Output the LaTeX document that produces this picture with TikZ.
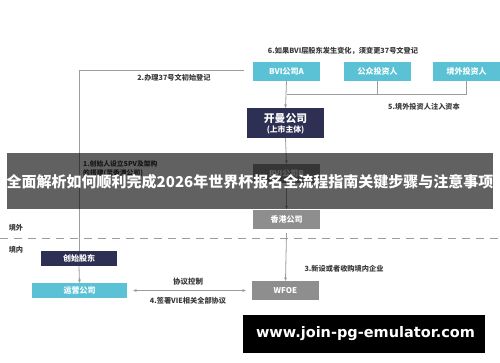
\documentclass[tikz,border=0pt]{standalone}
\usepackage{fontspec}
\setmainfont{Noto Sans CJK SC}
\newfontfamily\wmfont{DejaVu Sans}
\usetikzlibrary{arrows.meta}
\definecolor{cy}{HTML}{5BC2D6}
\definecolor{nv}{HTML}{2D3052}
\definecolor{gy}{HTML}{8E8E8E}
\definecolor{ln}{HTML}{9C9C9C}
\definecolor{tx}{HTML}{3A3A3A}
\tikzset{
  cbox/.style={fill=cy,text=white,font=\bfseries\fontsize{8}{9}\selectfont,inner sep=0pt,minimum width=67pt,minimum height=19pt},
  nbox/.style={fill=nv,text=white,font=\bfseries\fontsize{8}{9}\selectfont,inner sep=0pt},
  gbox/.style={fill=gy,text=white,font=\bfseries\fontsize{8}{9}\selectfont,inner sep=0pt,minimum width=67pt,minimum height=19pt},
  lab/.style={text=tx,font=\bfseries\fontsize{7.2}{8.5}\selectfont,inner sep=0pt},
  con/.style={draw=ln,line width=0.8pt},
  arr/.style={con,-{Stealth[length=3.5pt,width=3pt]}},
}
\begin{document}
\begin{tikzpicture}[x=1pt,y=-1pt]
\useasboundingbox (0,0) rectangle (500,362);
\fill[white] (0,0) rectangle (500,362);
% top row
\node[cbox] (bvia) at (286.5,71.5) {BVI公司A};
\node[cbox] (gz) at (377.5,71.5) {公众投资人};
\node[cbox] (jw) at (466.5,71.5) {境外投资人};
\node[lab] (l6) at (343,51) {6.如果BVI层股东发生变化，须变更37号文登记};
\node[nbox,minimum width=77pt,minimum height=30pt] (km) at (285.5,123) {};
\node[text=white,font=\bfseries\fontsize{10.8}{12}\selectfont,inner sep=0pt] (kmt) at (285.5,118.5) {开曼公司};
\node[text=white,font=\bfseries\fontsize{7.8}{9}\selectfont,inner sep=0pt] (kms) at (285.5,130) {(上市主体)};
\node[lab] (l5) at (424,107) {5.境外投资人注入资本};
\coordinate (j94) at (286.5,94);
\draw[con] (gz.south) |- (j94);
\draw[con] (jw.south) |- (j94);
\draw[arr] (bvia.south) -- (km.north);
% BVI B
\node[gbox] (bvib) at (286.5,173.5) {BVI公司B};
\node[lab,align=left,anchor=north west,font=\bfseries\fontsize{6.8}{8.5}\selectfont] (l1) at (83,160.5) {1.创始人设立SPV及架构\\的搭建(至香港公司)};
\draw[arr] (km.south) -- (bvib.north);
\node[gbox] (hk) at (286.5,219) {香港公司};
\draw[arr] (bvib.south) -- (hk.north);
% left side
\node[nbox,minimum width=76pt,minimum height=15pt] (cs) at (79,258.5) {创始股东};
\node[cbox,minimum width=95pt,minimum height=15pt] (yy) at (79.5,290.5) {运营公司};
\coordinate (c2) at (244,70);
\node[lab] (l2) at (174,78) {2.办理37号文初始登记};
\draw[con] (cs.north) |- (c2);
\draw[arr] (cs.south) -- (yy.north);
% dashed separator
\coordinate (dl) at (0,238);
\coordinate (dr) at (500,238);
\draw[draw=ln,line width=0.8pt,dash pattern=on 8pt off 6pt] (dl) -- (dr);
\node[lab,font=\bfseries\fontsize{7.2}{8}\selectfont] (jwai) at (16,228) {境外};
\node[lab,font=\bfseries\fontsize{7.2}{8}\selectfont] (jnei) at (16,250) {境内};
% WFOE
\node[gbox] (wf) at (285.5,290.5) {WFOE};
\coordinate (hkb) at (286.5,233);
\draw[arr] (hkb) -- (wf.north);
\node[lab] (l3) at (344,269) {3.新设或者收购境内企业};
\draw[con,{Stealth[length=3.5pt,width=3pt]}-{Stealth[length=3.5pt,width=3pt]}] ([xshift=6pt]yy.east) -- ([xshift=-6pt]wf.west);
\node[lab,font=\bfseries\fontsize{7.5}{8}\selectfont] (xy) at (188,282) {协议控制};
\node[lab] (l4) at (188,301) {4.签署VIE相关全部协议};
% banner
\fill[black,opacity=0.62] (7,153) rectangle (493,209);
\node[text=white,font=\bfseries\fontsize{15.0}{16}\selectfont,inner sep=0pt] (title) at (250,182)
  {全面解析如何顺利完成2026年世界杯报名全流程指南关键步骤与注意事项};
% watermark
\fill[black] (243,315) rectangle (485,353);
\node[text=white,font=\wmfont\bfseries\fontsize{14.5}{16}\selectfont,inner sep=0pt] (wm) at (365.5,334) {www.join-pg-emulator.com};
\end{tikzpicture}
\end{document}
